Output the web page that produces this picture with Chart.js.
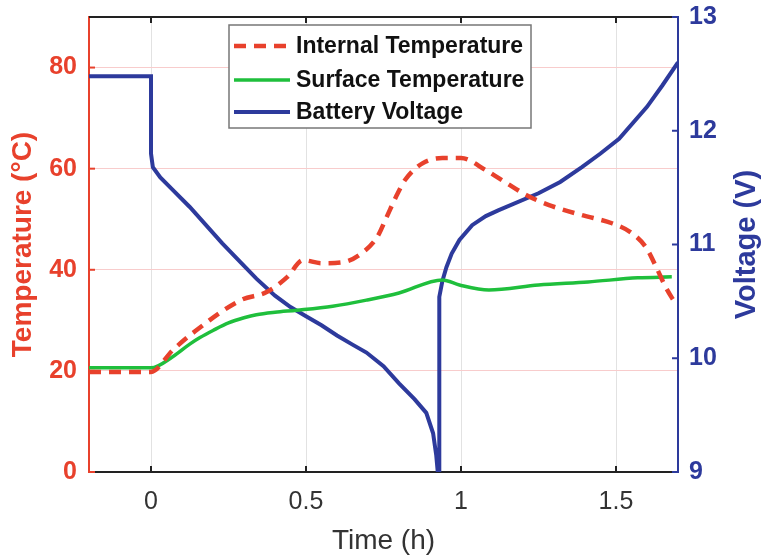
<!DOCTYPE html>
<html>
<head>
<meta charset="utf-8">
<script src="https://cdn.jsdelivr.net/npm/chart.js@4.4.1/dist/chart.umd.min.js"></script>
<style>
  html, body { margin: 0; padding: 0; background: #fff; }
  #wrap { width: 762px; height: 558px; }
</style>
</head>
<body>
<div id="wrap"><canvas id="graficoBateria" width="762" height="558"></canvas></div>
<script>
// Datos
const xTicks = [0, 0.5, 1, 1.5];
const tempTicks = [0, 20, 40, 60, 80];
const voltTicks = [9, 10, 11, 12, 13];

const intTime = [-0.2, 0, 0.07, 0.135, 0.29, 0.373, 0.44, 0.49, 0.55, 0.62, 0.68, 0.73, 0.76, 0.79, 0.82, 0.877, 0.94, 1.0, 1.08, 1.146, 1.21, 1.284, 1.39, 1.487, 1.55, 1.596, 1.63, 1.66, 1.69];
const intTemp = [19.8, 19.8, 24.1, 27.5, 34, 35.6, 38.6, 41.9, 41.3, 41.5, 43.3, 46.5, 50.4, 54.4, 57.8, 61.1, 62.1, 62.1, 59.7, 57.2, 54.8, 52.8, 50.8, 49.2, 47.3, 44.5, 40.5, 36.6, 33.5];

const surfTime = [-0.2, 0, 0.07, 0.125, 0.158, 0.2, 0.25, 0.3, 0.34, 0.4, 0.47, 0.586, 0.695, 0.8, 0.94, 0.995, 1.09, 1.25, 1.41, 1.57, 1.68];
const surfTemp = [20.6, 20.6, 22.8, 25.3, 26.6, 28.0, 29.5, 30.5, 31.1, 31.6, 32.0, 32.8, 34, 35.4, 38.0, 37.0, 36.0, 37, 37.6, 38.4, 38.6];

const voltTime = [-0.2, 0, 0, 0.006, 0.03, 0.07, 0.125, 0.23, 0.29, 0.34, 0.4, 0.45, 0.5, 0.55, 0.6, 0.65, 0.695, 0.75, 0.8, 0.85, 0.888, 0.91, 0.92, 0.925, 0.93, 0.93, 0.94, 0.953, 0.97, 0.995, 1.036, 1.08, 1.12, 1.25, 1.32, 1.39, 1.45, 1.51, 1.6, 1.65, 1.7];
const voltage = [12.48, 12.48, 11.8, 11.68, 11.59, 11.48, 11.33, 11.01, 10.84, 10.7, 10.55, 10.45, 10.37, 10.29, 10.2, 10.12, 10.05, 9.93, 9.78, 9.64, 9.52, 9.34, 9.15, 9.0, 9.0, 10.54, 10.68, 10.8, 10.92, 11.04, 11.17, 11.25, 11.3, 11.45, 11.55, 11.68, 11.8, 11.93, 12.21, 12.4, 12.6];

const ROJO = '#e8412c';
const VERDE = '#1fbf3c';
const AZUL = '#2d3a9c';

Chart.defaults.font.family = "'Liberation Sans', Arial, sans-serif";

const puntos = (xs, ys) => xs.map((x, i) => ({ x: x, y: ys[i] }));

// Leyenda dentro del área, bordes y marcas estilo MATLAB
const leyendaPlugin = {
  id: 'leyendaInterna',
  afterDatasetsDraw(chart) {
    const c = chart.ctx;
    const x0 = 229, y0 = 25, w = 302, h = 103;
    c.save();
    c.fillStyle = '#fff';
    c.fillRect(x0, y0, w, h);
    c.strokeStyle = '#777';
    c.lineWidth = 1.5;
    c.strokeRect(x0, y0, w, h);
    const filas = [46, 80, 112];
    chart.data.datasets.forEach((ds, i) => {
      const y = filas[i];
      c.beginPath();
      c.strokeStyle = ds.borderColor;
      c.lineWidth = ds.borderWidth;
      c.setLineDash(ds.borderDash || []);
      c.moveTo(234, y);
      c.lineTo(290, y);
      c.stroke();
      c.setLineDash([]);
      c.fillStyle = '#111';
      c.font = "bold 23px 'Liberation Sans', Arial, sans-serif";
      c.textAlign = 'left';
      c.textBaseline = 'middle';
      c.fillText(ds.label, 296, y + 1);
    });
    c.restore();
  },
  afterDraw(chart) {
    const c = chart.ctx;
    const a = chart.chartArea;
    const sx = chart.scales.x, sy = chart.scales.y, sv = chart.scales.y1;
    c.save();
    // borde superior
    c.lineWidth = 2;
    c.strokeStyle = '#222';
    c.beginPath();
    c.moveTo(a.left, a.top); c.lineTo(a.right, a.top);
    c.stroke();
    // marcas hacia dentro
    xTicks.forEach(v => {
      const px = sx.getPixelForValue(v);
      c.beginPath();
      c.moveTo(px, a.bottom); c.lineTo(px, a.bottom - 6);
      c.moveTo(px, a.top); c.lineTo(px, a.top + 6);
      c.stroke();
    });
    c.strokeStyle = ROJO;
    tempTicks.forEach(v => {
      const py = sy.getPixelForValue(v);
      c.beginPath(); c.moveTo(a.left, py); c.lineTo(a.left + 6, py); c.stroke();
    });
    c.strokeStyle = AZUL;
    voltTicks.forEach(v => {
      const py = sv.getPixelForValue(v);
      c.beginPath(); c.moveTo(a.right, py); c.lineTo(a.right - 6, py); c.stroke();
    });
    // título eje derecho, girado como en MATLAB
    c.translate(747, (a.top + a.bottom) / 2);
    c.rotate(-Math.PI / 2);
    c.fillStyle = AZUL;
    c.font = "bold 29px 'Liberation Sans', Arial, sans-serif";
    c.textAlign = 'center';
    c.textBaseline = 'middle';
    c.fillText('Voltage (V)', 0, 0);
    c.restore();
  }
};

new Chart(document.getElementById('graficoBateria').getContext('2d'), {
  type: 'line',
  data: {
    datasets: [
      {
        label: 'Internal Temperature',
        data: puntos(intTime, intTemp),
        borderColor: ROJO,
        borderWidth: 4.5,
        borderDash: [12, 8],
        pointRadius: 0,
        cubicInterpolationMode: 'monotone',
        yAxisID: 'y'
      },
      {
        label: 'Surface Temperature',
        data: puntos(surfTime, surfTemp),
        borderColor: VERDE,
        borderWidth: 3.5,
        pointRadius: 0,
        cubicInterpolationMode: 'monotone',
        yAxisID: 'y'
      },
      {
        label: 'Battery Voltage',
        data: puntos(voltTime, voltage),
        borderColor: AZUL,
        borderWidth: 4,
        pointRadius: 0,
        tension: 0,
        yAxisID: 'y1'
      }
    ]
  },
  options: {
    responsive: false,
    animation: false,
    layout: { padding: { top: 17, left: 0, right: 0, bottom: 0 } },
    plugins: {
      legend: { display: false },
      tooltip: { enabled: false }
    },
    scales: {
      x: {
        type: 'linear',
        position: 'bottom',
        min: -0.2,
        max: 1.7,
        afterBuildTicks: s => { s.ticks = xTicks.map(v => ({ value: v })); },
        afterFit: s => { s.height = 86; s.paddingLeft = 0; s.paddingRight = 0; },
        ticks: { color: '#333', font: { size: 25 }, padding: 15, callback: v => String(v) },
        grid: { color: '#e2e2e2', lineWidth: 1, drawTicks: false },
        border: { color: '#222', width: 2 },
        title: { display: true, text: 'Time (h)', color: '#333', font: { size: 28 }, padding: { top: 0, bottom: 0 } }
      },
      y: {
        position: 'left',
        min: 0,
        max: 90,
        afterBuildTicks: s => { s.ticks = tempTicks.map(v => ({ value: v })); },
        afterFit: s => { s.width = 89; s.paddingTop = 0; s.paddingBottom = 0; },
        ticks: { color: ROJO, font: { size: 25, weight: 'bold' }, padding: 12 },
        grid: {
          color: ctx => (ctx.tick && ctx.tick.value === 0) ? 'rgba(0,0,0,0)' : '#f8cccc',
          drawTicks: false
        },
        border: { color: ROJO, width: 2 },
        title: { display: true, text: 'Temperature (°C)', color: ROJO, font: { size: 28, weight: 'bold' }, padding: { top: 6, bottom: 0 } }
      },
      y1: {
        position: 'right',
        min: 9,
        max: 13,
        afterBuildTicks: s => { s.ticks = voltTicks.map(v => ({ value: v })); },
        afterFit: s => { s.width = 84; s.paddingTop = 0; s.paddingBottom = 0; },
        ticks: { color: AZUL, font: { size: 25, weight: 'bold' }, padding: 11 },
        grid: { drawOnChartArea: false, drawTicks: false },
        border: { color: AZUL, width: 2 }
      }
    }
  },
  plugins: [leyendaPlugin]
});
</script>
</body>
</html>
